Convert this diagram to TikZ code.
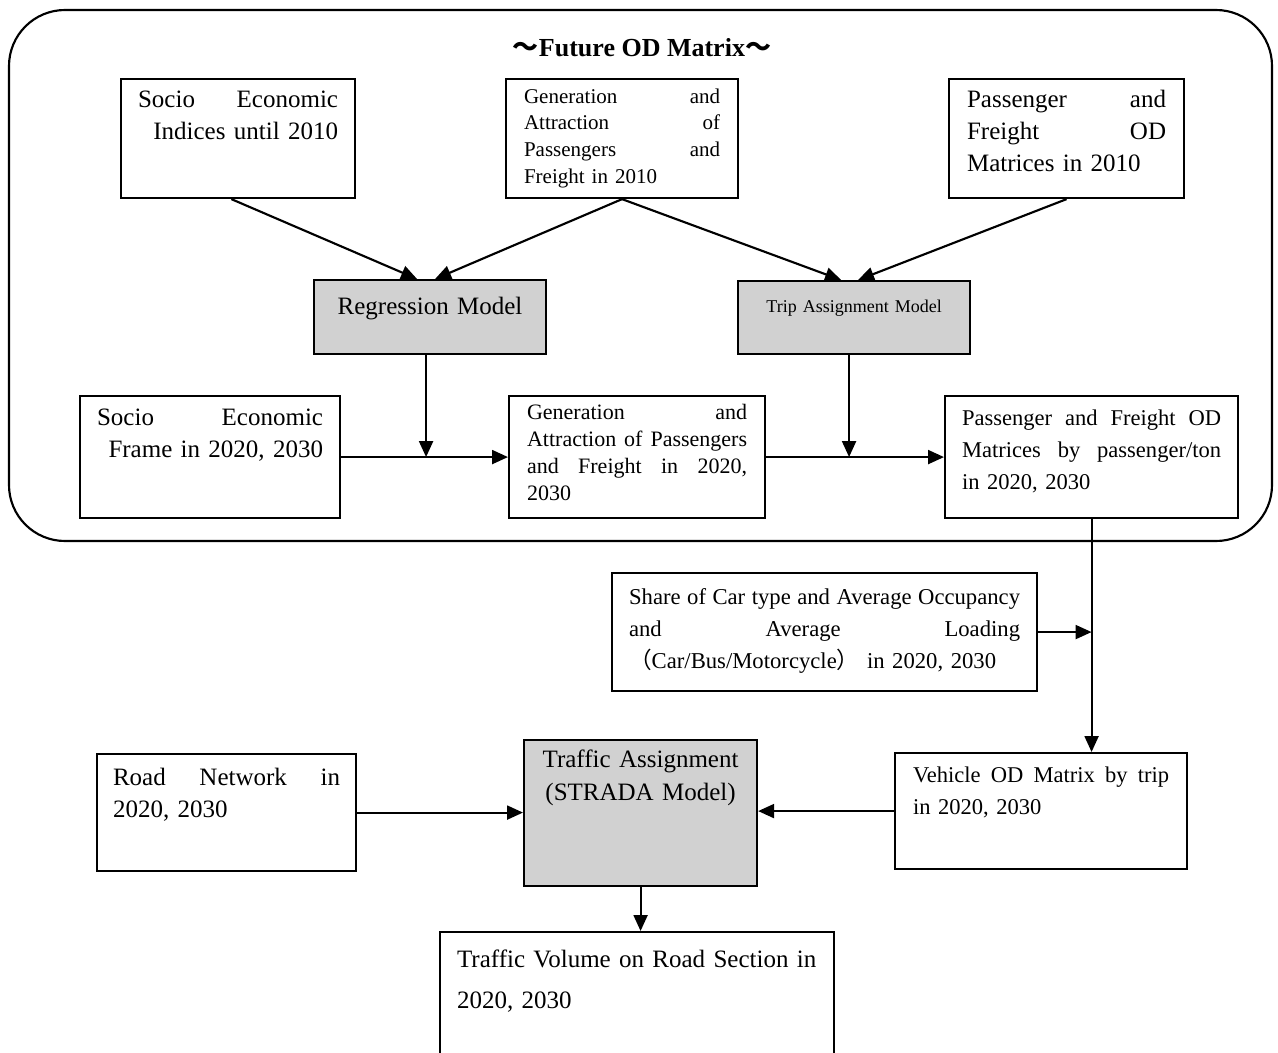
\documentclass[tikz,border=0pt]{standalone}
\usepackage{fontspec}
\setmainfont{Liberation Serif}
\newfontfamily\cjk{Noto Sans CJK JP}
\usetikzlibrary{arrows.meta}

\begin{document}
\begin{tikzpicture}[x=0.75pt,y=-0.75pt,
	box/.style={draw,line width=1.6pt,anchor=north west,inner ysep=0pt,font=\fontsize{18.75}{24}\selectfont},
	gbox/.style={box,fill=black!18,align=center,inner xsep=0pt},
	arr/.style={line width=1.6pt,-{Triangle[length=12pt,width=10.5pt]}}]
	\useasboundingbox (0,0) rectangle (1278,1053);
	\draw [line width=1.6pt,rounded corners=42pt] (9,10) rectangle (1272,541);
	\node (title) at (642,48) {\fontsize{19.5}{24}\selectfont\bfseries{\cjk ～}Future OD Matrix{\cjk ～}};

	% present situation
	\node [box,inner xsep=12.75pt,text width=150pt,text height=21pt,text depth=68.25pt] (socA) at (120,78)
		{Socio\hfill Economic\\ \hspace*{\fill}Indices until 2010};
	\node [box,inner xsep=13.5pt,text width=147pt,text height=18pt,text depth=71.25pt,font=\fontsize{15.75}{20}\selectfont] (genA) at (505,78)
		{Generation\hfill and\\ Attraction\hfill of\\ Passengers\hfill and\\ Freight in 2010};
	\node [box,inner xsep=13.5pt,text width=149.25pt,text height=21pt,text depth=68.25pt] (pfA) at (948,78)
		{Passenger\hfill and\\ Freight\hfill OD\\ Matrices in 2010};

	% models
	\node [gbox,text width=174pt,text height=25.5pt,text depth=30pt] (regr) at (313,279) {Regression Model};
	\node [gbox,text width=174pt,text height=23.25pt,text depth=31.5pt,font=\fontsize{13.5}{16}\selectfont] (trip) at (737,280) {Trip Assignment Model};

	% future
	\node [box,inner xsep=12.75pt,text width=169.5pt,text height=21.75pt,text depth=69.75pt] (socB) at (79,395)
		{Socio\hfill Economic\\ \hspace*{\fill}Frame in 2020, 2030};
	\node [box,inner xsep=13.5pt,text width=165pt,text height=17.25pt,text depth=74.25pt,font=\fontsize{16.5}{20.25}\selectfont] (genB) at (508,395)
		{Generation\hfill and\\ Attraction\hfill of\hfill Passengers\\ and\hfill Freight\hfill in\hfill 2020,\\ 2030};
	\node [box,inner xsep=12.75pt,text width=194.25pt,text height=21.75pt,text depth=69.75pt,font=\fontsize{16.9}{24}\selectfont] (pfB) at (944,395)
		{Passenger\hfill and\hfill Freight\hfill OD\\ Matrices\hfill by\hfill passenger/ton\\ in 2020, 2030};

	% vehicles
	\node [box,inner xsep=12.75pt,text width=293.25pt,text height=23.25pt,text depth=65.25pt,font=\fontsize{17}{24}\selectfont] (share) at (611,572)
		{Share\hfill of\hfill Car\hfill type\hfill and\hfill Average\hfill Occupancy\\ and\hfill Average\hfill Loading\\ {\cjk （}Car/Bus/Motorcycle{\cjk ）} in 2020, 2030};
	\node [box,inner xsep=12pt,text width=170.25pt,text height=23.25pt,text depth=64.5pt] (road) at (96,753)
		{Road\hfill Network\hfill in\\ 2020, 2030};
	\node [gbox,text width=174.75pt,text height=20.25pt,text depth=89.25pt,font=\fontsize{18.75}{24.75}\selectfont] (tass) at (523,739)
		{Traffic Assignment\\ (STRADA Model)};
	\node [box,inner xsep=13.5pt,text width=192pt,text height=21.75pt,text depth=65.25pt,font=\fontsize{16.9}{24}\selectfont] (veh) at (894,752)
		{Vehicle\hfill OD\hfill Matrix\hfill by\hfill trip\\ in 2020, 2030};
	\node [box,inner xsep=12.75pt,text width=270pt,text height=26.25pt,text depth=72pt,font=\fontsize{18.75}{30.75}\selectfont] (vol) at (439,931)
		{Traffic Volume on Road Section in\\ 2020, 2030};

	\draw [arr] ([xshift=-5pt]socA.south) -- ([xshift=-9.75pt]regr.north);
	\draw [arr] (genA.south) -- ([xshift=3.75pt]regr.north);
	\draw [arr] (genA.south) -- ([xshift=-9.75pt]trip.north);
	\draw [arr] (pfA.south) -- ([xshift=3pt]trip.north);
	\draw [arr] ([xshift=-3pt]regr.south) -- ([xshift=-3pt]regr.south |- socB.east);
	\draw [arr] (socB.east) -- (genB.west);
	\draw [arr] ([xshift=-3.75pt]trip.south) -- ([xshift=-3.75pt]trip.south |- genB.east);
	\draw [arr] (genB.east) -- (pfB.west);
	\draw [arr] (pfB.south) -- (pfB.south |- veh.north);
	\draw [arr] (share.east) -- (share.east -| pfB.south);
	\draw [arr] (road.east) -- (road.east -| tass.west);
	\draw [arr] (veh.west) -- (veh.west -| tass.east);
	\draw [arr] (tass.south) -- (tass.south |- vol.north);
\end{tikzpicture}
\end{document}
